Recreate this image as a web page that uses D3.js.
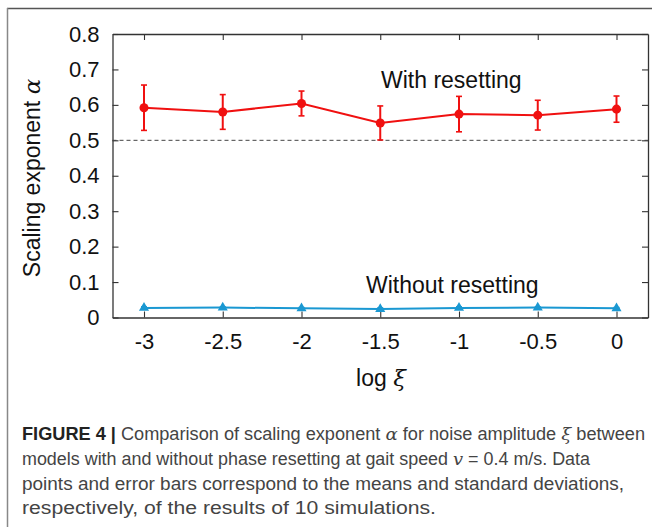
<!DOCTYPE html>
<html>
<head>
<meta charset="utf-8">
<script src="https://cdn.jsdelivr.net/npm/d3@7"></script>
<style>
  body { margin: 0; background: #fff; }
  svg { display: block; }
</style>
</head>
<body>
<svg id="chart" width="652" height="527"></svg>
<script>
// data
const logXi = [-3, -2.5, -2, -1.5, -1, -0.5, 0];
const withMean = [0.592, 0.580, 0.604, 0.549, 0.574, 0.571, 0.588];
const withSd = [0.064, 0.049, 0.035, 0.048, 0.050, 0.042, 0.037];
const withoutMean = [0.027, 0.028, 0.026, 0.024, 0.027, 0.028, 0.026];
const withoutSd = [0.003, 0.002, 0.002, 0.003, 0.003, 0.002, 0.002];
const xTicks = [-3, -2.5, -2, -1.5, -1, -0.5, 0];
const yTicks = [0, 0.1, 0.2, 0.3, 0.4, 0.5, 0.6, 0.7, 0.8];

const svg = d3.select("#chart");
const font = "Liberation Sans, Arial, Helvetica, sans-serif";

// figure frame (top + left edges only, as cropped)
svg.append("line").attr("x1", 7).attr("x2", 652).attr("y1", 8.5).attr("y2", 8.5)
  .attr("stroke", "#555").attr("stroke-width", 1.5);
svg.append("line").attr("x1", 7.5).attr("x2", 7.5).attr("y1", 8).attr("y2", 527)
  .attr("stroke", "#888").attr("stroke-width", 1.5);

const x = d3.scaleLinear().domain([-3.2, 0.2]).range([112.5, 648]);
const y = d3.scaleLinear().domain([0, 0.8]).range([317.5, 34]);

const g = svg.append("g");

function styleAxis(sel) {
  sel.selectAll("path").attr("stroke", "#333").attr("stroke-width", 1.3);
  sel.selectAll("line").attr("stroke", "#333").attr("stroke-width", 1.1);
  sel.selectAll("text").attr("fill", "#111").style("font-family", font).style("font-size", "22px");
}

g.append("g").attr("transform", `translate(0,${y(0)})`)
  .call(d3.axisBottom(x).tickValues(xTicks).tickSize(-6).tickSizeOuter(0).tickPadding(16)
    .tickFormat(d => String(d)))
  .call(styleAxis);
g.append("g").attr("transform", `translate(0,${y(0.8)})`)
  .call(d3.axisTop(x).tickValues(xTicks).tickSize(-6).tickSizeOuter(0).tickFormat(""))
  .call(styleAxis);
g.append("g").attr("transform", `translate(${x(-3.2)},0)`)
  .call(d3.axisLeft(y).tickValues(yTicks).tickSize(-6).tickSizeOuter(0).tickPadding(13)
    .tickFormat(d => d === 0 ? "0" : d3.format(".1f")(d)))
  .call(styleAxis);
g.append("g").attr("transform", `translate(${x(0.2)},0)`)
  .call(d3.axisRight(y).tickValues(yTicks).tickSize(-6).tickSizeOuter(0).tickFormat(""))
  .call(styleAxis);

// reference line at 0.5
g.append("line").attr("x1", x(-3.2)).attr("x2", x(0.2)).attr("y1", y(0.5)).attr("y2", y(0.5))
  .attr("stroke", "#444").attr("stroke-width", 1).attr("stroke-dasharray", "4,3");

function series(mean, sd, color, symbol) {
  const pts = logXi.map((v, i) => ({ x: v, m: mean[i], s: sd[i] }));
  const s = g.append("g");
  s.append("path").datum(pts)
    .attr("fill", "none").attr("stroke", color).attr("stroke-width", 2)
    .attr("d", d3.line().x(d => x(d.x)).y(d => y(d.m)));
  const eb = s.selectAll(".eb").data(pts).enter().append("g");
  eb.append("line").attr("x1", d => x(d.x)).attr("x2", d => x(d.x))
    .attr("y1", d => y(d.m - d.s)).attr("y2", d => y(d.m + d.s))
    .attr("stroke", color).attr("stroke-width", 2);
  [-1, 1].forEach(k => {
    eb.append("line").attr("x1", d => x(d.x) - 3).attr("x2", d => x(d.x) + 3)
      .attr("y1", d => y(d.m + k * d.s)).attr("y2", d => y(d.m + k * d.s))
      .attr("stroke", color).attr("stroke-width", 1.6);
  });
  s.selectAll(".mk").data(pts).enter().append("path")
    .attr("transform", d => `translate(${x(d.x)},${y(d.m)})`)
    .attr("d", d3.symbol().type(symbol.type).size(symbol.size))
    .attr("fill", color);
}

series(withMean, withSd, "#f01010", { type: d3.symbolCircle, size: 64 });
series(withoutMean, withoutSd, "#1a98d2", { type: d3.symbolTriangle, size: 44 });

g.append("text").attr("x", 381).attr("y", 88).text("With resetting")
  .style("font-family", font).style("font-size", "23px").attr("fill", "#111");
g.append("text").attr("x", 366).attr("y", 293).text("Without resetting")
  .style("font-family", font).style("font-size", "23px").attr("fill", "#111");

// axis titles
const xl = g.append("text").attr("x", 381).attr("y", 386).attr("text-anchor", "middle")
  .style("font-family", font).style("font-size", "23px").attr("fill", "#111");
xl.append("tspan").text("log ");
xl.append("tspan").text("ξ").style("font-family", "DejaVu Serif, serif").style("font-style", "italic");

const yl = g.append("text").attr("transform", "translate(40,178) rotate(-90)").attr("text-anchor", "middle")
  .style("font-family", font).style("font-size", "23px").attr("fill", "#111");
yl.append("tspan").text("Scaling exponent ");
yl.append("tspan").text("α").style("font-family", "DejaVu Serif, serif").style("font-style", "italic");

// caption
const cap = svg.append("g").style("font-family", font).style("font-size", "17.5px").attr("fill", "#444");
const lines = [
  { y: 440, w: 623, parts: [["FIGURE 4 |", "b"], [" Comparison of scaling exponent "], ["α", "i"], [" for noise amplitude "], ["ξ", "i"], [" between"]] },
  { y: 465, w: 568, parts: [["models with and without phase resetting at gait speed "], ["v", "i"], [" = 0.4 m/s. Data"]] },
  { y: 490, w: 602, parts: [["points and error bars correspond to the means and standard deviations,"]] },
  { y: 514, w: 414, parts: [["respectively, of the results of 10 simulations."]] }
];
lines.forEach(l => {
  const t = cap.append("text").attr("x", 22).attr("y", l.y)
    .attr("textLength", l.w).attr("lengthAdjust", "spacingAndGlyphs");
  l.parts.forEach(p => {
    const ts = t.append("tspan").text(p[0]);
    if (p[1] === "b") ts.style("font-weight", "bold").attr("fill", "#222");
    if (p[1] === "i") ts.style("font-style", "italic").style("font-family", "DejaVu Serif, serif");
  });
});
</script>
</body>
</html>
